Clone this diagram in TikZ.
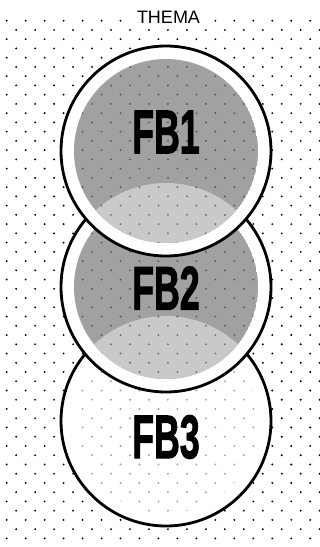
\documentclass[tikz,border=0pt]{standalone}
\usepackage{fontspec}
\setmainfont{Liberation Sans}
\newfontfamily\fbfont{Liberation Sans}[BoldFeatures={FakeBold=2}]
\definecolor{diskgray}{HTML}{A0A1A0}
\definecolor{lightgray}{HTML}{C8C9C8}
\tikzset{
  ring/.style={draw=black, line width=2.8pt},
  fbtext/.style={font=\fbfont\fontsize{61.5}{61.5}\selectfont\bfseries, inner sep=0pt, text=black},
  title/.style={font=\fontsize{18}{18}\selectfont, fill=white, inner sep=1.5pt},
}
\newcommand\dotfield[1]{%
  \foreach \j in {0,...,56}{%
    \pgfmathsetmacro\yy{20.7+9.245*\j}%
    \pgfmathsetmacro\off{mod(\j,2)*9.485}%
    \foreach \i in {0,...,16}{%
      \fill[#1] ({6.7+\off+18.97*\i},\yy) circle (1.05pt);
    }%
  }%
}
\begin{document}
\begin{tikzpicture}[x=1pt,y=-1pt]
  \useasboundingbox (0,0) rectangle (320,547);
  \fill[white] (0,0) rectangle (320,547);
  % background dots
  \dotfield{black}
  % centres
  \coordinate (c1) at (166,151);
  \coordinate (c2) at (166,287);
  \coordinate (c3) at (166,421);
  % FB3
  \fill[white] (c3) circle (105pt);
  \begin{scope}
    \clip (c3) circle (92pt);
    \dotfield{black,opacity=0.38}
  \end{scope}
  \draw[ring] (c3) circle (105pt);
  % FB2
  \fill[white] (c2) circle (105pt);
  \begin{scope}
    \clip (c2) circle (92pt);
    \fill[diskgray] (c2) circle (92pt);
    \fill[lightgray] (c3) circle (105pt);
    \dotfield{black,opacity=0.45}
  \end{scope}
  \draw[ring] (c2) circle (105pt);
  % FB1
  \fill[white] (c1) circle (105pt);
  \begin{scope}
    \clip (c1) circle (92pt);
    \fill[diskgray] (c1) circle (92pt);
    \fill[lightgray] (c2) circle (104pt);
    \dotfield{black,opacity=0.45}
  \end{scope}
  \draw[ring] (c1) circle (105pt);
  % labels
  \node[title] (thema) at (168.5,17) {THEMA};
  \node[fbtext] (fb1) at (166,132) {\scalebox{0.58}[1]{FB1}};
  \node[fbtext] (fb2) at (166,288) {\scalebox{0.58}[1]{FB2}};
  \node[fbtext] (fb3) at (166,437) {\scalebox{0.58}[1]{FB3}};
\end{tikzpicture}
\end{document}
